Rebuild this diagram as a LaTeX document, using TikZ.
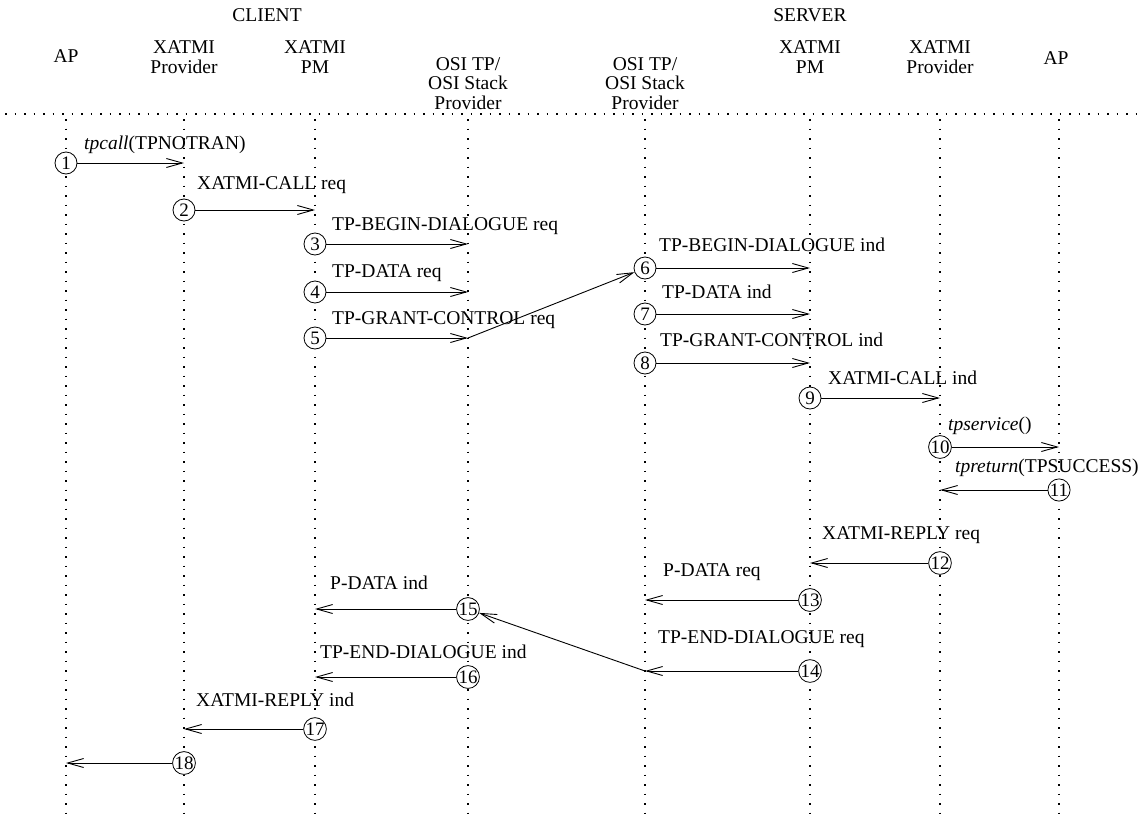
\documentclass[tikz,border=0pt]{standalone}
\usepackage{fontspec}
\setmainfont{Liberation Serif}
\usetikzlibrary{arrows.meta,calc}
\begin{document}
\begin{tikzpicture}[x=1pt,y=-1pt,
  every node/.style={font=\fontsize{19.5}{22}\selectfont, inner sep=0pt},
  life/.style={line width=1.8pt, dash pattern=on 1.8pt off 7.7pt},
  num/.style={draw, circle, line width=0.8pt, minimum size=22pt, fill=white, font=\fontsize{19}{20}\selectfont},
  msg/.style={line width=0.9pt, -{Straight Barb[length=16pt,width=9pt,line width=0.9pt]}},
  lbl/.style={anchor=base west},
  hdr/.style={align=center, anchor=base, font=\fontsize{19.5}{19.5}\selectfont}]
\useasboundingbox (0,0) rectangle (1141,814);
% lifeline x positions
\coordinate (apC) at (66,0);
\coordinate (provC) at (184,0);
\coordinate (pmC) at (315,0);
\coordinate (osiC) at (468,0);
\coordinate (osiS) at (645,0);
\coordinate (pmS) at (810,0);
\coordinate (provS) at (940,0);
\coordinate (apS) at (1059,0);
% headers
\node[hdr] (hC) at (267,21) {CLIENT};
\node[hdr] (hS) at (810,21) {SERVER};
\node[hdr] (h1) at (66,62) {AP};
\node[hdr] (h2) at (184,73) {XATMI\\Provider};
\node[hdr] (h3) at (315,73) {XATMI\\PM};
\node[hdr] (h4) at (468,109) {OSI TP/\\OSI Stack\\Provider};
\node[hdr] (h5) at (645,109) {OSI TP/\\OSI Stack\\Provider};
\node[hdr] (h6) at (810,73) {XATMI\\PM};
\node[hdr] (h7) at (940,73) {XATMI\\Provider};
\node[hdr] (h8) at (1056,64) {AP};
% separator and lifelines
\coordinate (sepL) at (5,114);
\coordinate (sepR) at (1141,114);
\draw[life] (sepL) -- (sepR);
\foreach \c in {apC,provC,pmC,osiC,osiS,pmS,provS,apS}{
  \draw[life] ($(\c)+(0,119)$) -- ($(\c)+(0,814)$);
}
% circles
\node[num] (c1) at (66,163) {1};
\node[num] (c2) at (184,210) {2};
\node[num] (c3) at (315,244) {3};
\node[num] (c4) at (315,292) {4};
\node[num] (c5) at (315,338) {5};
\node[num] (c6) at (645,268) {6};
\node[num] (c7) at (645,314) {7};
\node[num] (c8) at (645,363) {8};
\node[num] (c9) at (810,398) {9};
\node[num] (c10) at (940,447) {10};
\node[num] (c11) at (1059,490) {11};
\node[num] (c12) at (940,563) {12};
\node[num] (c13) at (810,600) {13};
\node[num] (c14) at (810,671) {14};
\node[num] (c15) at (468,609) {15};
\node[num] (c16) at (468,677) {16};
\node[num] (c17) at (315,729) {17};
\node[num] (c18) at (184,763) {18};
% messages
\draw[msg] (c1) -- (c1 -| provC);
\draw[msg] (c2) -- (c2 -| pmC);
\draw[msg] (c3) -- (c3 -| osiC);
\draw[msg] (c4) -- (c4 -| osiC);
\draw[msg] (c5) -- (c5 -| osiC);
\draw[msg] (c5 -| osiC) -- (c6);
\draw[msg] (c6) -- (c6 -| pmS);
\draw[msg] (c7) -- (c7 -| pmS);
\draw[msg] (c8) -- (c8 -| pmS);
\draw[msg] (c9) -- (c9 -| provS);
\draw[msg] (c10) -- (c10 -| apS);
\draw[msg] (c11) -- (c11 -| provS);
\draw[msg] (c12) -- (c12 -| pmS);
\draw[msg] (c13) -- (c13 -| osiS);
\draw[msg] (c14) -- (c14 -| osiS);
\draw[msg] (c14 -| osiS) -- (c15);
\draw[msg] (c15) -- (c15 -| pmC);
\draw[msg] (c16) -- (c16 -| pmC);
\draw[msg] (c17) -- (c17 -| provC);
\draw[msg] (c18) -- (c18 -| apC);
% labels
\node[lbl] (l1) at (84,149) {\textit{tpcall}(TPNOTRAN)};
\node[lbl] (l2) at (197,189) {XATMI-CALL req};
\node[lbl] (l3) at (332,230) {TP-BEGIN-DIALOGUE req};
\node[lbl] (l4) at (332,277) {TP-DATA req};
\node[lbl] (l5) at (332,324) {TP-GRANT-CONTROL req};
\node[lbl] (l6) at (659,251) {TP-BEGIN-DIALOGUE ind};
\node[lbl] (l7) at (662,298) {TP-DATA ind};
\node[lbl] (l8) at (660,346) {TP-GRANT-CONTROL ind};
\node[lbl] (l9) at (828,384) {XATMI-CALL ind};
\node[lbl] (l10) at (948,430) {\textit{tpservice}()};
\node[lbl] (l11) at (955,472) {\textit{tpreturn}(TPSUCCESS)};
\node[lbl] (l12) at (822,539) {XATMI-REPLY req};
\node[lbl] (l13) at (663,576) {P-DATA req};
\node[lbl] (l14) at (658,643) {TP-END-DIALOGUE req};
\node[lbl] (l15) at (330,589) {P-DATA ind};
\node[lbl] (l16) at (320,658) {TP-END-DIALOGUE ind};
\node[lbl] (l17) at (196,706) {XATMI-REPLY ind};
\end{tikzpicture}
\end{document}
